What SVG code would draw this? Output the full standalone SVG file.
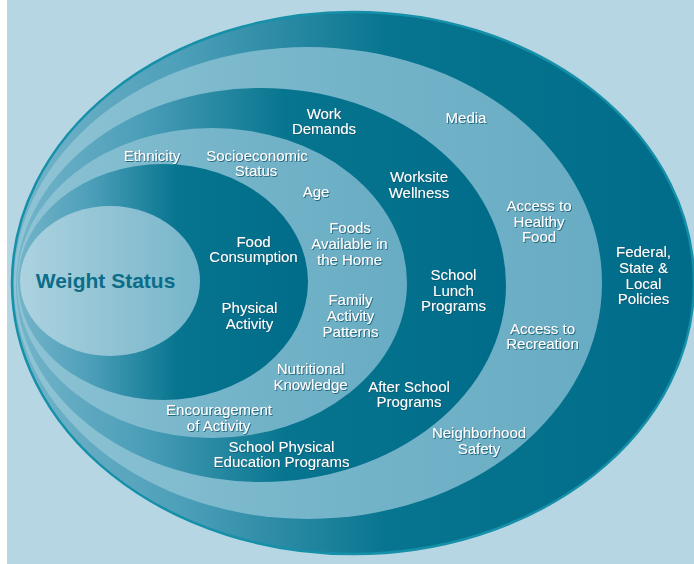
<svg xmlns="http://www.w3.org/2000/svg" width="694" height="564" viewBox="0 0 694 564">
<defs>
<linearGradient id="gDark" x1="0" y1="0" x2="1" y2="0">
<stop offset="0" stop-color="#74b4c9"/>
<stop offset="0.25" stop-color="#4d9fb9"/>
<stop offset="0.55" stop-color="#07758f"/>
<stop offset="1" stop-color="#006c8a"/>
</linearGradient>
<linearGradient id="gLight" x1="0" y1="0" x2="1" y2="0">
<stop offset="0" stop-color="#8fc4d5"/>
<stop offset="0.5" stop-color="#76b5ca"/>
<stop offset="1" stop-color="#68acc3"/>
</linearGradient>
<linearGradient id="gCore" x1="0" y1="0" x2="1" y2="0">
<stop offset="0" stop-color="#acd2df"/>
<stop offset="1" stop-color="#76b5ca"/>
</linearGradient>
<filter id="sh" x="-10%" y="-30%" width="120%" height="160%">
<feDropShadow dx="0.8" dy="0.9" stdDeviation="0.6" flood-color="#0a5870" flood-opacity="0.95"/>
</filter>
</defs>
<style>
.lbl{font-family:"Liberation Sans",Arial,sans-serif;font-size:15px;fill:#ffffff;text-anchor:middle;filter:url(#sh)}
.core{font-family:"Liberation Sans",Arial,sans-serif;font-size:21px;font-weight:bold;fill:#0c6d88;text-anchor:middle}
</style>
<rect x="0" y="0" width="694" height="564" fill="#ffffff"/>
<rect x="7" y="0" width="687" height="564" fill="#b6d6e3"/>
<g id="ring-policy">
<ellipse cx="353" cy="283" rx="341" ry="271" fill="url(#gDark)" stroke="#1690a9" stroke-width="2.5"/>
<text class="lbl" x="643.5" y="257">Federal,</text>
<text class="lbl" x="643.5" y="273">State &amp;</text>
<text class="lbl" x="643.5" y="288.5">Local</text>
<text class="lbl" x="643.5" y="304">Policies</text>
</g>
<g id="ring-community">
<ellipse cx="308" cy="283" rx="294" ry="236" fill="url(#gLight)"/>
<text class="lbl" x="466" y="123">Media</text>
<text class="lbl" x="539" y="211">Access to</text>
<text class="lbl" x="539" y="226.5">Healthy</text>
<text class="lbl" x="539" y="242">Food</text>
<text class="lbl" x="542.5" y="333.5">Access to</text>
<text class="lbl" x="542.5" y="349">Recreation</text>
<text class="lbl" x="479" y="438">Neighborhood</text>
<text class="lbl" x="479" y="453.5">Safety</text>
</g>
<g id="ring-organization">
<ellipse cx="261" cy="285" rx="245" ry="197" fill="url(#gDark)"/>
<text class="lbl" x="324" y="118.5">Work</text>
<text class="lbl" x="324" y="134">Demands</text>
<text class="lbl" x="419" y="182">Worksite</text>
<text class="lbl" x="419" y="197.5">Wellness</text>
<text class="lbl" x="453.5" y="280">School</text>
<text class="lbl" x="453.5" y="295.5">Lunch</text>
<text class="lbl" x="453.5" y="311">Programs</text>
<text class="lbl" x="409" y="391.5">After School</text>
<text class="lbl" x="409" y="407">Programs</text>
<text class="lbl" x="281.5" y="451.5">School Physical</text>
<text class="lbl" x="281.5" y="467">Education Programs</text>
</g>
<g id="ring-family">
<ellipse cx="212" cy="283" rx="195" ry="155" fill="url(#gLight)"/>
<text class="lbl" x="152" y="160.5">Ethnicity</text>
<text class="lbl" x="257" y="160.5">Socioeconomic</text>
<text class="lbl" x="256" y="176">Status</text>
<text class="lbl" x="316" y="197">Age</text>
<text class="lbl" x="350" y="233">Foods</text>
<text class="lbl" x="349.5" y="249">Available in</text>
<text class="lbl" x="349.5" y="264.5">the Home</text>
<text class="lbl" x="350.5" y="305">Family</text>
<text class="lbl" x="350.5" y="320.5">Activity</text>
<text class="lbl" x="350.5" y="336.5">Patterns</text>
<text class="lbl" x="310.5" y="374">Nutritional</text>
<text class="lbl" x="310.5" y="389.5">Knowledge</text>
<text class="lbl" x="219" y="415">Encouragement</text>
<text class="lbl" x="218.5" y="430.5">of Activity</text>
</g>
<g id="ring-individual">
<ellipse cx="163" cy="282" rx="145" ry="118" fill="url(#gDark)"/>
<text class="lbl" x="253.5" y="246.5">Food</text>
<text class="lbl" x="253.5" y="262">Consumption</text>
<text class="lbl" x="249.5" y="313">Physical</text>
<text class="lbl" x="249.5" y="328.5">Activity</text>
</g>
<g id="core-weight-status">
<ellipse cx="110" cy="281" rx="90" ry="75" fill="url(#gCore)"/>
<text class="core" x="105.5" y="288">Weight Status</text>
</g>
</svg>
